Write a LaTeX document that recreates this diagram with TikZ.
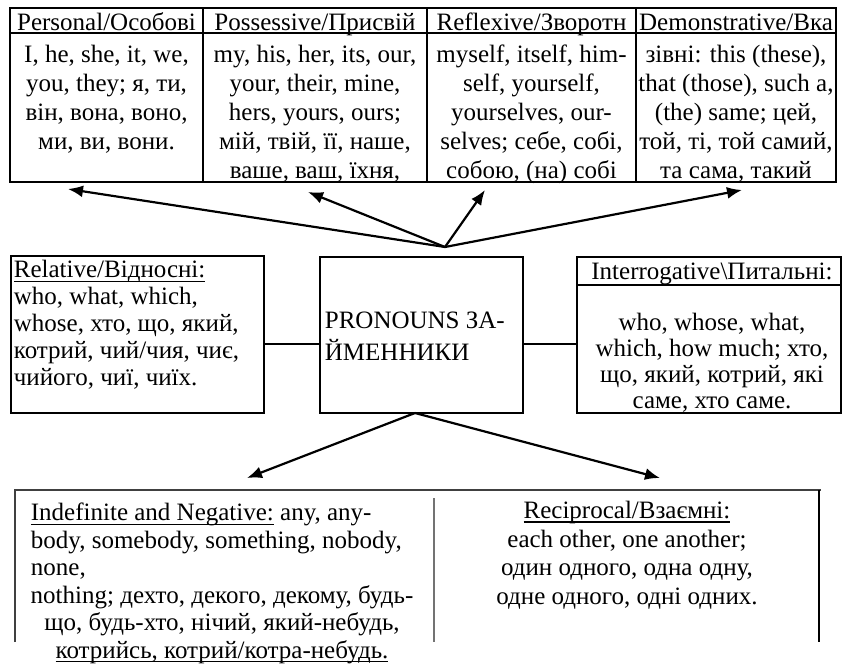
\documentclass[tikz,border=0pt]{standalone}
\usepackage{fontspec}
\setmainfont{Liberation Serif}
\usetikzlibrary{arrows.meta}

\newcommand{\pfont}[1]{\fontsize{25}{#1}\selectfont}
\newcommand{\uln}[1]{\setbox0\hbox{#1}\rlap{\rule[-4pt]{\wd0}{1.4pt}}\box0\relax}

\tikzset{
  cell/.style={inner sep=0pt, font=\pfont{29}},
  box/.style={draw, inner sep=0pt, anchor=north west},
  ptr/.style={line width=2.2pt, -{Latex[length=15pt,width=12pt]}},
  frame/.style={draw=black!75, line width=1.6pt},
}

\begin{document}
\begin{tikzpicture}[x=1pt, y=-1pt, line width=1.8pt]
\useasboundingbox (0,0) rectangle (842,669);

% table of the four kinds on top
\draw (10,8) rectangle (836,182);
\draw (10,33) -- (836,33);
\draw (203,8) -- (203,182);
\draw (427,8) -- (427,182);
\draw (636,8) -- (636,182);

\node [cell, anchor=base] (persH) at (106.5,31) {Personal/Особові};
\node [cell, anchor=base] (possH) at (315,31) {Possessive/Присвій};
\node [cell, anchor=base] (reflH) at (531.5,31) {Reflexive/Зворотн};
\node [cell, anchor=base] (demH) at (736,31) {Demonstrative/Вка};

\node [cell, anchor=north, align=center] (persB) at (106.5,41.7)
  {\strut I, he, she, it, we,\\ you, they; я, ти,\\ він, вона, воно,\\ ми, ви, вони.};
\node [cell, anchor=north, align=center] (possB) at (315,41.7)
  {\strut my, his, her, its, our,\\ your, their, mine,\\ hers, yours, ours;\\ мій, твій, її, наше,\\ ваше, ваш, їхня,};
\node [cell, anchor=north, align=center] (reflB) at (531.5,41.7)
  {\strut myself, itself, him-\\ self, yourself,\\ yourselves, our-\\ selves; себе, собі,\\ собою, (на) собі};
\node [cell, anchor=north, align=center] (demB) at (736,41.7)
  {\strut зівні: this (these),\\ that (those), such a,\\ (the) same; цей,\\ той, ті, той самий,\\ та сама, такий};

% middle row
\node [box, minimum width=253pt, minimum height=157pt] (relBox) at (10,255) {};
\node [box, minimum width=203pt, minimum height=156pt] (pronBox) at (319,256) {};
\node [box, minimum width=264pt, minimum height=156pt] (quesBox) at (576,256) {};
\draw (quesBox.west |- 0,285) -- (quesBox.east |- 0,285);

\node [cell, anchor=north west, align=left, font=\pfont{27}] (relT) at (13,258.1)
  {\strut\uln{Relative/Відносні:}\\ who, what, which,\\ whose, хто, що, який,\\ котрий, чий/чия, чиє,\\ чийого, чиї, чиїх.};
\node [cell, anchor=north west, align=left, font=\pfont{30}] (pronT) at (324,307)
  {\strut PRONOUNS ЗА-\\ЙМЕННИКИ};
\node [cell, anchor=base] (quesH) at (712,279) {Interrogative\textbackslash Питальні:};
\node [cell, anchor=north, align=center, font=\pfont{26}] (quesT) at (712,311.8)
  {\strut who, whose, what,\\ which, how much; хто,\\ що, який, котрий, які\\ саме, хто саме.};

\draw ([yshift=-9pt]pronBox.west) -- ([yshift=-9pt]pronBox.west -| relBox.east);
\draw ([yshift=-9pt]pronBox.east) -- ([yshift=-9pt]pronBox.east -| quesBox.west);

% open box at the bottom
\draw [frame] (15,642) -- (15,490) -- (821,490);
\draw (819,490) -- (819,642);
\draw [frame, draw=black!55] (434,498) -- (434,642);

\node [cell, anchor=north west, align=left, font=\pfont{27.5}] (indefA) at (30,500.75)
  {\strut\uln{Indefinite and Negative:} any, any-\\ body, somebody, something, nobody,\\ none,};
\node [cell, anchor=north, align=center, font=\pfont{27.5}] (indefB) at (222,583.25)
  {\strut nothing; дехто, декого, декому, будь-\\ що, будь-хто, нічий, який-небудь,\\ \uln{котрийсь, котрий/котра-небудь.}};
\node [cell, anchor=north, align=center, font=\pfont{28.5}] (recipT) at (627,498)
  {\strut\uln{Reciprocal/Взаємні:}\\ each other, one another;\\ один одного, одна одну,\\ одне одного, одні одних.};

% arrows
\coordinate (hubUp) at (445,247);
\coordinate (toPers) at (68,189);
\coordinate (toPoss) at (308,192);
\coordinate (toRefl) at (485,190);
\coordinate (toDem) at (742,190);
\draw [ptr] (hubUp) -- (toPers);
\draw [ptr] (hubUp) -- (toPoss);
\draw [ptr] (hubUp) -- (toRefl);
\draw [ptr] (hubUp) -- (toDem);

\coordinate (hubLow) at (415,413);
\coordinate (toIndef) at (247,478);
\coordinate (toRecip) at (660,478);
\draw [ptr] (hubLow) -- (toIndef);
\draw [ptr] (hubLow) -- (toRecip);

\end{tikzpicture}
\end{document}
